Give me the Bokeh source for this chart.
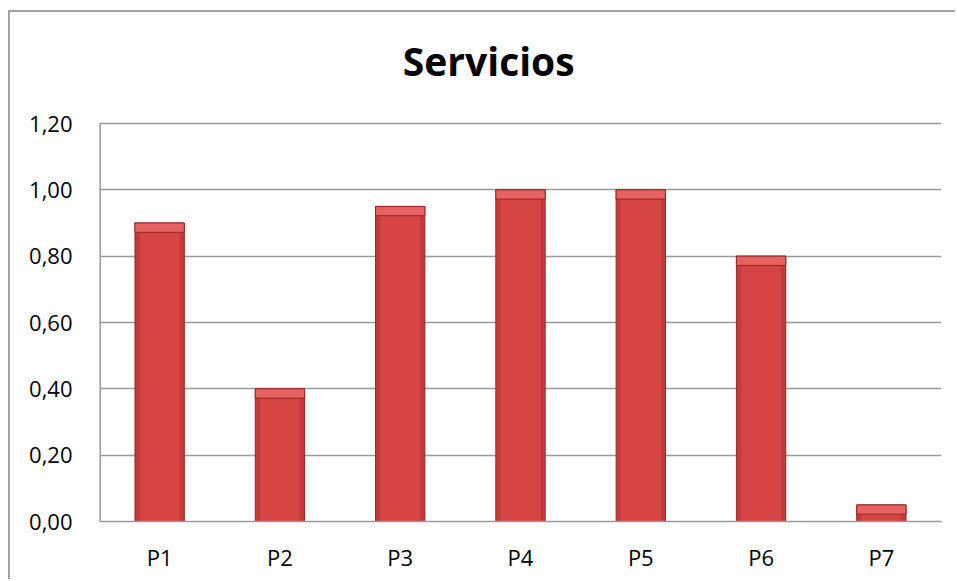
from bokeh.plotting import figure
from bokeh.models import FactorRange, Range1d, FixedTicker, ColumnDataSource, Label
from bokeh.embed import file_html
from bokeh.resources import INLINE

categories = ["P1", "P2", "P3", "P4", "P5", "P6", "P7"]
values = [0.90, 0.40, 0.95, 1.00, 1.00, 0.80, 0.05]
y_ticks = [0.0, 0.2, 0.4, 0.6, 0.8, 1.0, 1.2]
y_tick_labels = ["0,00", "0,20", "0,40", "0,60", "0,80", "1,00", "1,20"]
title_text = "Servicios"

bevel = 0.028
src = ColumnDataSource(dict(
    x=categories,
    top=values,
    bevel_bottom=[max(v - bevel, 0) for v in values],
))

# frame extends above the value axis to host the title
FIG_H = 569
MB_TOP, MB_BOTTOM = 8, 60
axis_px = 398.0  # pixel height of 0..1.2
frame_px = FIG_H - MB_TOP - MB_BOTTOM
y_top = y_ticks[-1] * frame_px / axis_px

p = figure(
    x_range=FactorRange(factors=categories, range_padding=0),
    y_range=Range1d(0, y_top),
    width=947, height=FIG_H,
    output_backend="svg", toolbar_location=None,
    min_border_left=89, min_border_right=16,
    min_border_top=MB_TOP, min_border_bottom=MB_BOTTOM,
)
p.margin = (12, 0, 0, 10)
p.styles = {"box-shadow": "-2px -2px 0px 0px #a3a3a3"}

p.outline_line_color = None
p.background_fill_color = "white"
p.border_fill_color = "white"

# value-axis line from 0 to the top tick
p.segment(x0=[0], y0=[y_ticks[0]], x1=[0], y1=[y_ticks[-1]],
          line_color="#9a9a9a", line_width=3)

# bars: base, inner highlight, top bevel
p.vbar(x="x", top="top", bottom=0, width=0.41, source=src,
       fill_color="#C43A3A", line_color="#952626", line_width=1)
p.vbar(x="x", top="top", bottom=0, width=0.33, source=src,
       fill_color="#D64444", line_color=None)
p.vbar(x="x", top="top", bottom="bevel_bottom", width=0.41, source=src,
       fill_color="#E76262", line_color="#952626", line_width=1)

title = Label(
    x=3.236, y=1.39, text=title_text,
    text_align="center", text_baseline="alphabetic",
    text_font="Open Sans", text_font_size="39px",
    text_font_style="bold", text_color="#000000",
)
p.add_layout(title)

# axes
p.yaxis.ticker = FixedTicker(ticks=y_ticks)
p.yaxis.major_label_overrides = {t: l for t, l in zip(y_ticks, y_tick_labels)}
p.yaxis.major_tick_line_color = None
p.yaxis.minor_tick_line_color = None
p.yaxis.major_tick_out = 0
p.yaxis.major_tick_in = 0
p.yaxis.major_label_standoff = 27
p.yaxis.axis_line_color = None

p.xaxis.major_tick_line_color = None
p.xaxis.major_tick_out = 0
p.xaxis.major_tick_in = 0
p.xaxis.major_label_standoff = 20
p.xaxis.axis_line_color = "#9a9a9a"
p.xaxis.axis_line_width = 1.5

for ax in (p.xaxis, p.yaxis):
    ax.major_label_text_font = "Open Sans"
    ax.major_label_text_font_size = "22px"
    ax.major_label_text_color = "#000000"

p.xgrid.grid_line_color = None
p.ygrid.grid_line_color = "#9a9a9a"
p.ygrid.grid_line_width = 1.5
p.ygrid.level = "underlay"

open("out.html", "w").write(file_html(p, INLINE))
